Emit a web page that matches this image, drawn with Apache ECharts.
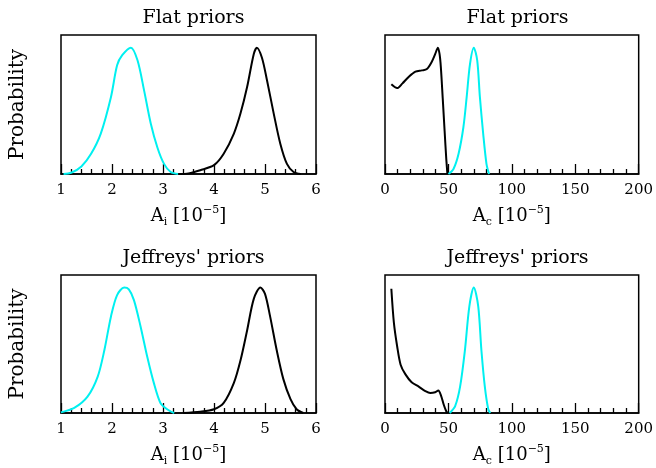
<!DOCTYPE html>
<html><head><meta charset="utf-8">
<script src="https://cdn.jsdelivr.net/npm/echarts@6/dist/echarts.min.js"></script>
<style>html,body{margin:0;padding:0;background:#fff}#c{width:656px;height:468px}</style>
</head><body><div id="c"></div>
<script>
// Panel titles and axis texts
const panelTitles = ["Flat priors", "Flat priors", "Jeffreys' priors", "Jeffreys' priors"];
const yAxisName = "Probability";

// A_i panels: [A_i, relative probability]
const flatAiCyan = [[1.05,0],[1.2,0.01],[1.4,0.06],[1.59,0.16],[1.78,0.32],[1.98,0.61],[2.1,0.86],[2.2,0.94],[2.37,1.0],[2.5,0.9],[2.63,0.66],[2.76,0.40],[2.89,0.21],[3.02,0.08],[3.15,0.016],[3.3,0]];
const flatAiBlack = [[3.3,0],[3.5,0.005],[3.73,0.03],[4.0,0.07],[4.19,0.16],[4.39,0.32],[4.52,0.48],[4.65,0.69],[4.78,0.95],[4.84,1.0],[4.94,0.92],[5.04,0.74],[5.17,0.48],[5.3,0.24],[5.43,0.08],[5.56,0.016],[5.7,0]];
const jeffAiCyan = [[1.0,0.005],[1.26,0.04],[1.52,0.13],[1.72,0.29],[1.85,0.5],[1.98,0.77],[2.1,0.94],[2.24,1.0],[2.33,0.985],[2.43,0.9],[2.56,0.69],[2.69,0.45],[2.82,0.24],[2.95,0.08],[3.08,0.03],[3.22,0]];
const jeffAiBlack = [[3.4,0],[3.73,0.01],[4.0,0.03],[4.19,0.08],[4.39,0.24],[4.52,0.42],[4.65,0.66],[4.78,0.91],[4.91,1.0],[5.0,0.95],[5.1,0.77],[5.23,0.5],[5.36,0.27],[5.5,0.11],[5.62,0.03],[5.75,0]];

// A_c panels
const flatAcBlack = [[5,0.71],[9.6,0.68],[13.6,0.715],[18.8,0.77],[24,0.81],[29,0.82],[33,0.83],[37,0.89],[39.6,0.95],[41.7,1.0],[43,0.95],[44,0.85],[45.5,0.6],[47,0.34],[48.3,0.12],[49.2,0]];
const flatAcCyan = [[50,0],[54,0.04],[58,0.16],[61.8,0.37],[64.4,0.61],[67,0.87],[70,1.0],[72.7,0.9],[74.8,0.61],[77.4,0.32],[80,0.08],[82,0]];
const jeffAcBlack = [[5,0.99],[7,0.72],[9.6,0.53],[12.3,0.385],[16,0.31],[21,0.245],[26.6,0.21],[31.8,0.175],[35.7,0.16],[39.6,0.166],[42,0.18],[44.3,0.135],[46.2,0.07],[48.2,0.016],[49.3,0]];
const jeffAcCyan = [[51,0],[55.3,0.055],[59.2,0.21],[63,0.5],[66.5,0.85],[70,1.0],[73.5,0.85],[76,0.5],[78.7,0.21],[81.4,0.03],[83,0]];

const aiRange = [1, 6, 1];
const acRange = [0, 200, 50];

const FONT = "DejaVu Serif";
const grids = [
  {left:61, top:35, width:255, height:139},
  {left:385, top:35, width:255, height:139},
  {left:61, top:275, width:255, height:139},
  {left:385, top:275, width:255, height:139}
];
const ranges = [aiRange, acRange, aiRange, acRange];
const names = ["Ai","Ac","Ai","Ac"];
const seriesData = [[flatAiCyan, flatAiBlack],[flatAcBlack, flatAcCyan],[jeffAiCyan, jeffAiBlack],[jeffAcBlack, jeffAcCyan]];
const colors = [["#00f0f0","#000"],["#000","#00f0f0"],["#00f0f0","#000"],["#000","#00f0f0"]];

const option = {
  animation:false,
  backgroundColor:'#fff',
  title: grids.map((g,i)=>({
    text: panelTitles[i], left: g.left + g.width/2, top: g.top - 31, textAlign:'center',
    textStyle:{fontFamily:FONT, fontSize:19, fontWeight:'normal', color:'#000'}
  })),
  grid: grids.map(g=>Object.assign({show:true, borderColor:'#000', borderWidth:1.5, backgroundColor:'transparent'}, g)),
  xAxis: grids.map((g,i)=>({
    type:'value', gridIndex:i, min:ranges[i][0], max:ranges[i][1], interval:ranges[i][2],
    axisLine:{show:true, lineStyle:{color:'#000', width:1.5}},
    axisTick:{show:true, inside:true, length:10, lineStyle:{color:'#000', width:1.3}},
    minorTick:{show:true, splitNumber:5, length:5, lineStyle:{color:'#000', width:1.3}},
    splitLine:{show:false},
    axisLabel:{fontFamily:FONT, fontSize:15, color:'#000', margin:9, showMinLabel:true, showMaxLabel:true},
    name: names[i]==='Ai' ? '{a|A}{s|i}{a| [10}{p|−5}{a|]}' : '{a|A}{s|c}{a| [10}{p|−5}{a|]}',
    nameLocation:'middle', nameGap:31,
    nameTextStyle:{rich:{
      a:{fontFamily:FONT, fontSize:18, color:'#000'},
      s:{fontFamily:FONT, fontSize:11, color:'#000', verticalAlign:'bottom', padding:[12,0,0,0]},
      p:{fontFamily:FONT, fontSize:11, color:'#000', verticalAlign:'top', padding:[0,0,8,0]}
    }}
  })),
  yAxis: grids.map((g,i)=>({
    type:'value', gridIndex:i, min:0, max:1.1,
    axisLine:{show:false}, axisTick:{show:false}, axisLabel:{show:false}, splitLine:{show:false},
    name: (i%2===0) ? yAxisName : '', nameLocation:'middle', nameGap:33, nameRotate:90,
    nameTextStyle:{fontFamily:FONT, fontSize:20, color:'#000'}
  })),
  series: []
};
seriesData.forEach((pair,i)=>{
  pair.forEach((d,j)=>{
    option.series.push({
      type:'line', xAxisIndex:i, yAxisIndex:i, data:d, smooth:0.3, showSymbol:false,
      lineStyle:{color:colors[i][j], width:2}, z: 3
    });
  });
});
const chart = echarts.init(document.getElementById('c'), null, {renderer:'canvas'});
chart.setOption(option);
</script>
</body></html>
